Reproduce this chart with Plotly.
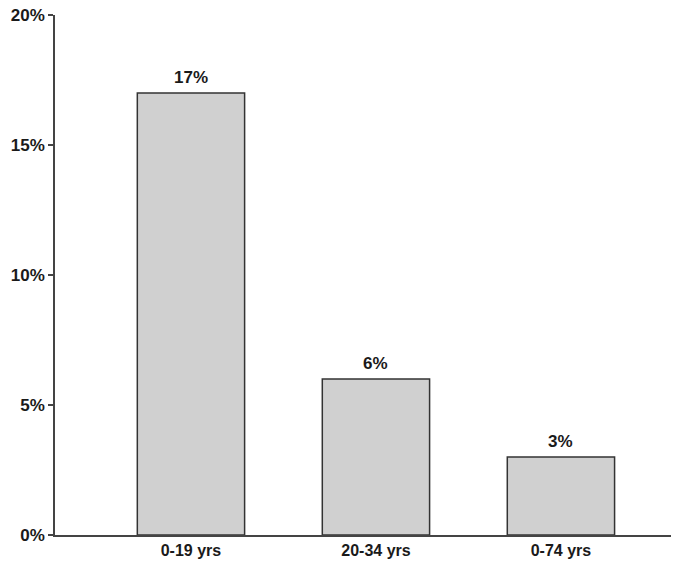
import plotly.graph_objects as go

categories = ["0-19 yrs", "20-34 yrs", "0-74 yrs"]
values = [17, 6, 3]
labels = ["17%", "6%", "3%"]
ytick_vals = [0, 5, 10, 15, 20]
ytick_text = ["0%", "5%", "10%", "15%", "20%"]

FAM = "Liberation Sans, Arial, sans-serif"
xpos = list(range(len(categories)))

fig = go.Figure(go.Bar(
    x=xpos, y=values,
    marker=dict(color="#d0d0d0", line=dict(color="#333333", width=1.5)),
    width=0.58,
))

for xi, v, lab in zip(xpos, values, labels):
    fig.add_annotation(x=xi, y=v, text=f"<b>{lab}</b>", showarrow=False,
                       yanchor="bottom", yshift=4,
                       font=dict(family=FAM, size=17, color="#1a1a1a"))

fig.update_layout(
    width=674, height=577,
    margin=dict(l=55, r=3, t=15, b=42, autoexpand=False),
    plot_bgcolor="white", paper_bgcolor="white",
    showlegend=False,
)
fig.update_xaxes(
    range=[-0.735, 2.595], tickvals=xpos,
    ticktext=[f"<b>{c}</b>" for c in categories],
    showline=True, linecolor="#444444", linewidth=1.5, ticks="", showgrid=False, zeroline=False,
    tickfont=dict(family=FAM, size=16, color="#1a1a1a"), automargin=False,
)
fig.update_yaxes(
    range=[0, 20], tickvals=ytick_vals, ticktext=[f"<b>{t}</b>" for t in ytick_text],
    showline=True, linecolor="#444444", linewidth=1.5, ticks="outside", ticklen=5,
    tickcolor="#444444", tickwidth=1.5, showgrid=False, zeroline=False,
    tickfont=dict(family=FAM, size=17, color="#1a1a1a"), automargin=False,
)

fig.write_html("out.html", config={"displayModeBar": False},
               post_script="document.body.style.margin='0';document.body.style.overflow='hidden';")
